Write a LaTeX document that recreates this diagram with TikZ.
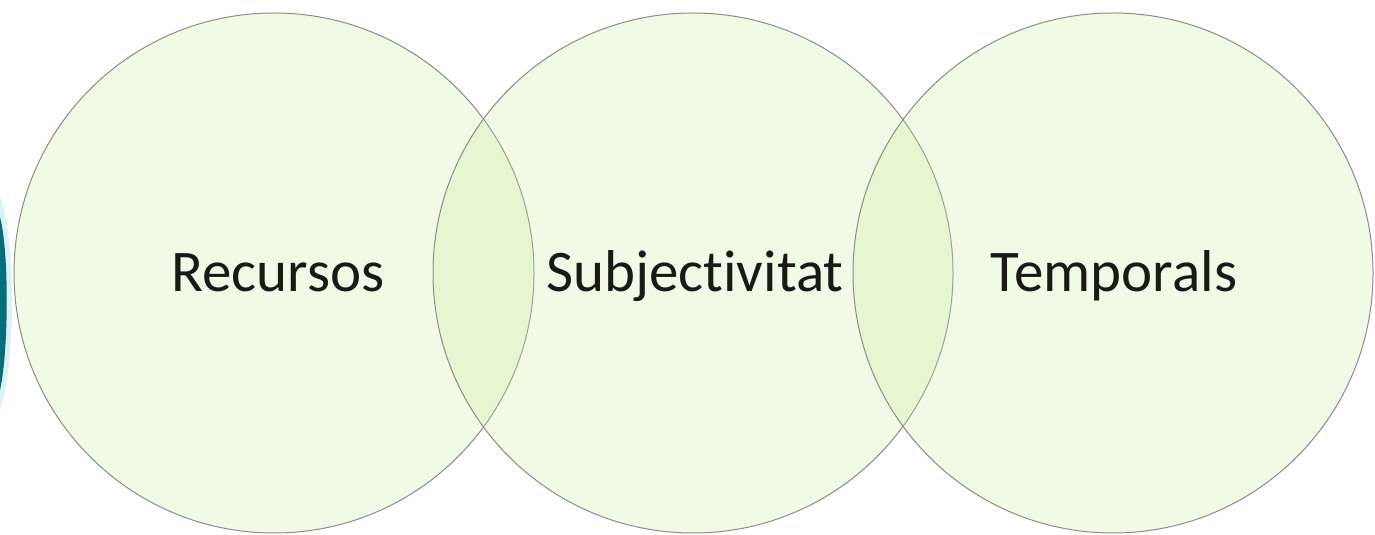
\documentclass[tikz,border=0pt]{standalone}
\usepackage{fontspec}
\setmainfont[RawFeature={-liga;-dlig}]{Carlito}
\definecolor{venngreen}{RGB}{196,234,150}
\definecolor{venntext}{RGB}{25,25,25}
\definecolor{slideteal}{RGB}{0,112,124}
\begin{document}
\begin{tikzpicture}[x=0.5pt,y=0.5pt]
  \tikzset{vennset/.style={circle,minimum size=260pt,inner sep=0pt,draw=black!45,line width=0.5pt,fill=venngreen,fill opacity=0.25}}
  \tikzset{vennlabel/.style={anchor=base,text=venntext,font=\fontsize{29.5}{32}\selectfont}}
  \useasboundingbox (0,0) rectangle (1375,535);
  % bit of the slide border at the left
  \fill[cyan!15] (0,125) .. controls (16,170) and (16,300) .. (0,338) -- cycle;
  \fill[slideteal] (0,145) .. controls (9,185) and (9,285) .. (0,318) -- cycle;
  % the three sets
  \node[vennset] (rec) at (274,262) {};
  \node[vennset] (sub) at (693,262) {};
  \node[vennset] (tem) at (1113,262) {};
  \node[vennlabel] (recl) at (278,243) {Recursos};
  \node[vennlabel] (subl) at (695,243) {Subjectivitat};
  \node[vennlabel] (teml) at (1114,243) {Temporals};
\end{tikzpicture}
\end{document}
